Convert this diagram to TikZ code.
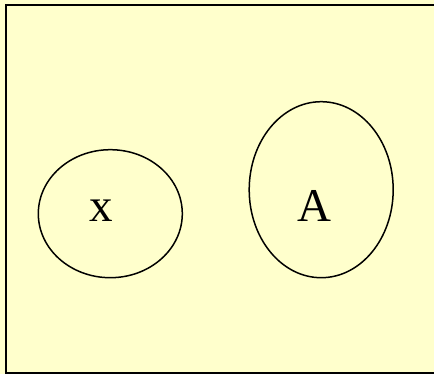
\documentclass[tikz,border=0pt]{standalone}
\usepackage{fontspec}
\setmainfont{Liberation Serif}
\usetikzlibrary{shapes.geometric}
\definecolor{cpaper}{HTML}{FFFFCC}
\definecolor{cline}{HTML}{000000}

\begin{document}
\begin{tikzpicture}[
    x=1pt, y=-1pt,
    setshape/.style={ellipse, draw=cline, line width=1.5pt,
        inner sep=0pt, minimum width=144pt},
    setlabel/.style={anchor=base, text=cline,
        font=\fontsize{47}{50}\selectfont, inner sep=0pt},
]

% ============================================================
% UNIVERSE
% ============================================================
\fill[cpaper] (0,0) rectangle (434,374);
\useasboundingbox (0,0) rectangle (434,374);
\clip (0,0) rectangle (434,374);
\draw[cline, line width=2pt] (6,5) rectangle (450,373);

% ============================================================
% SETS
% ============================================================
\node[setshape, minimum height=128pt] (setx) at (110.3,213.7) {};
\node[setlabel] (labx) at (101.7,221.7) {x};

\node[setshape, minimum height=176pt] (setA) at (321.2,189.7) {};
\node[setlabel] (labA) at (314.9,221.7) {A};

\end{tikzpicture}
\end{document}
